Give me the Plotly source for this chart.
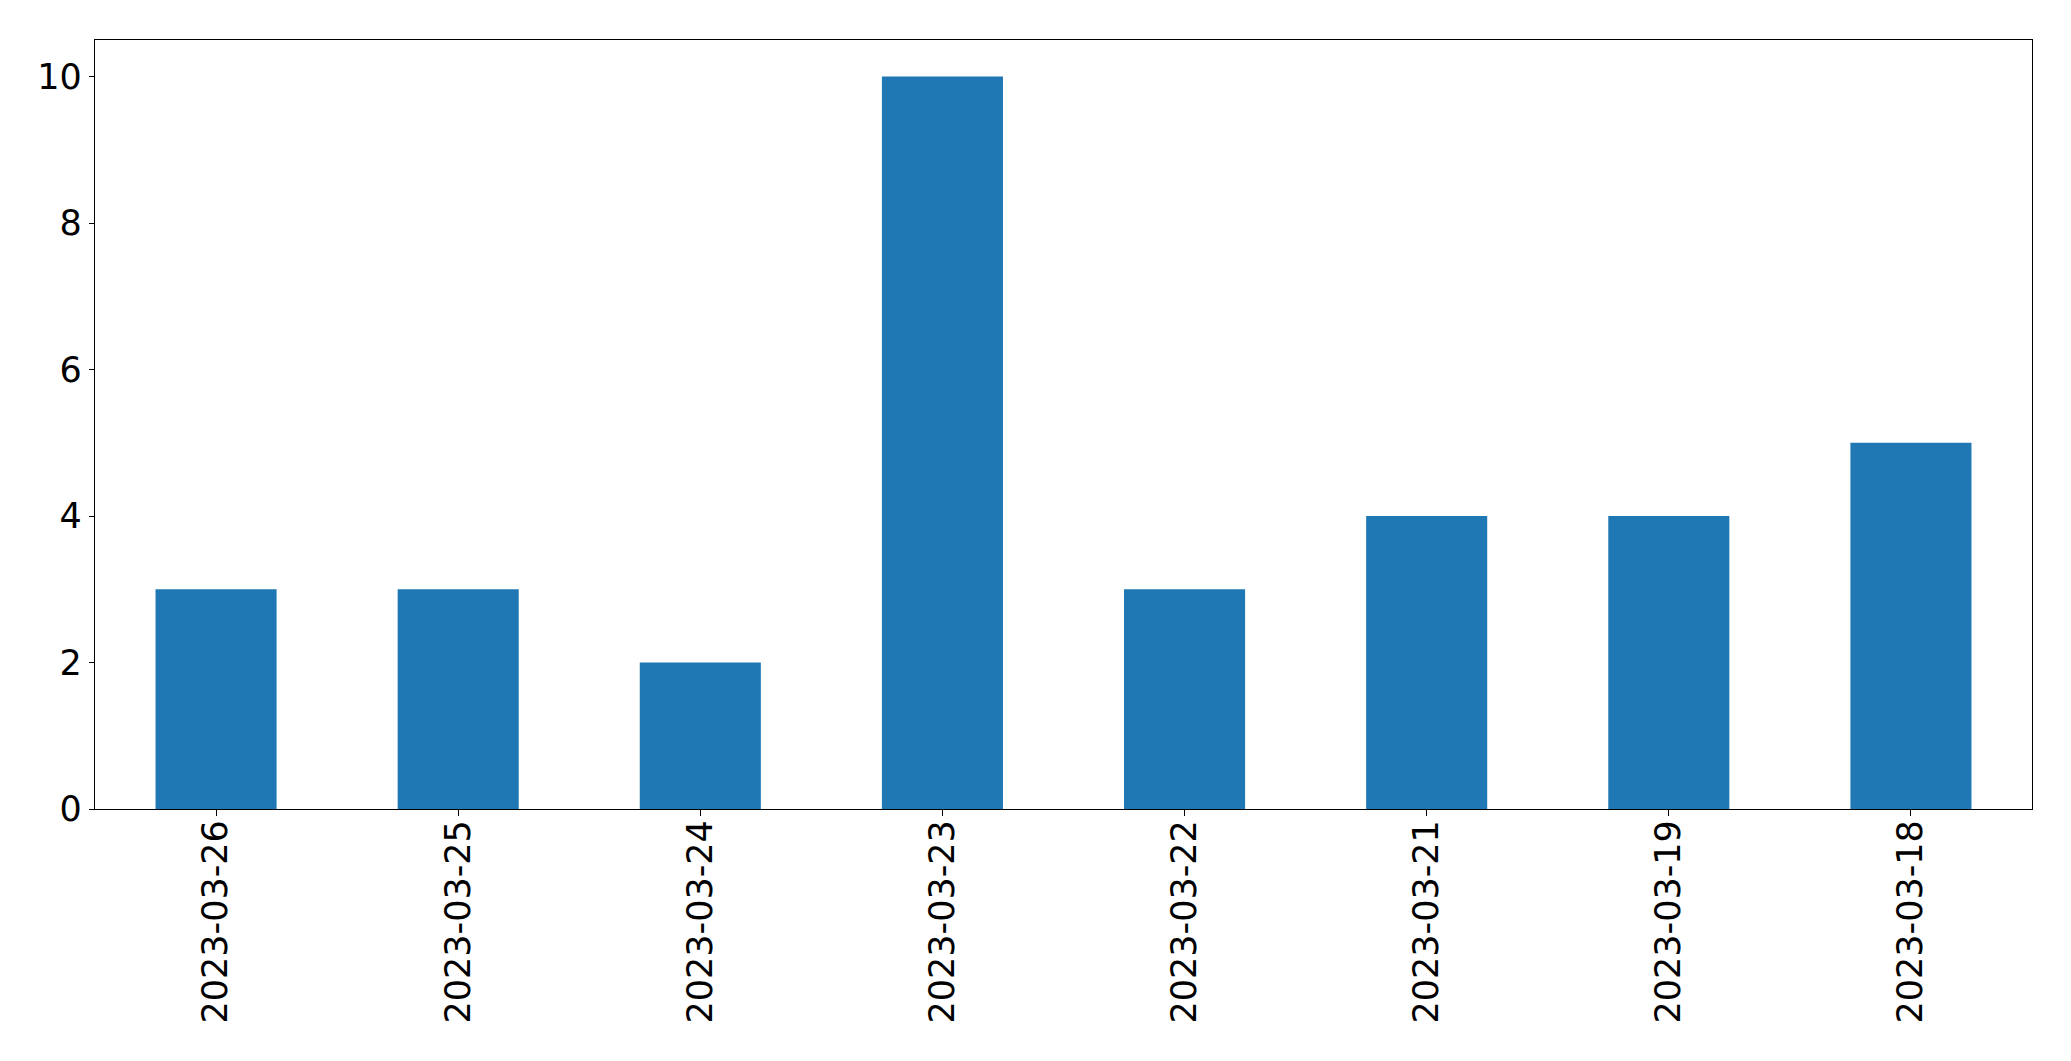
import plotly.graph_objects as go

dates = ["2023-03-26", "2023-03-25", "2023-03-24", "2023-03-23",
         "2023-03-22", "2023-03-21", "2023-03-19", "2023-03-18"]
counts = [3, 3, 2, 10, 3, 4, 4, 5]
y_ticks = [0, 2, 4, 6, 8, 10]

fig = go.Figure(go.Bar(x=list(range(len(dates))), y=counts, width=0.5,
                       marker=dict(color="#1f77b4", line=dict(width=0))))

axis_common = dict(showline=True, linecolor="black", linewidth=1.3, mirror=True,
                   showgrid=False, zeroline=False, ticks="outside", tickcolor="black",
                   tickwidth=1.3, tickfont=dict(family="DejaVu Sans", size=35, color="black"))

fig.update_layout(
    width=2071, height=1061,
    margin=dict(l=87, r=47, t=32, b=260, pad=0),
    paper_bgcolor="white", plot_bgcolor="white",
    showlegend=False,
    xaxis=dict(range=[-0.5, 7.5], tickvals=list(range(len(dates))), ticktext=dates,
               tickangle=-90, ticklen=6, ticklabelstandoff=-10, **axis_common),
    yaxis=dict(range=[0, 10.5], tickvals=y_ticks, ticklen=5, **axis_common),
)
fig.write_html("out.html")
